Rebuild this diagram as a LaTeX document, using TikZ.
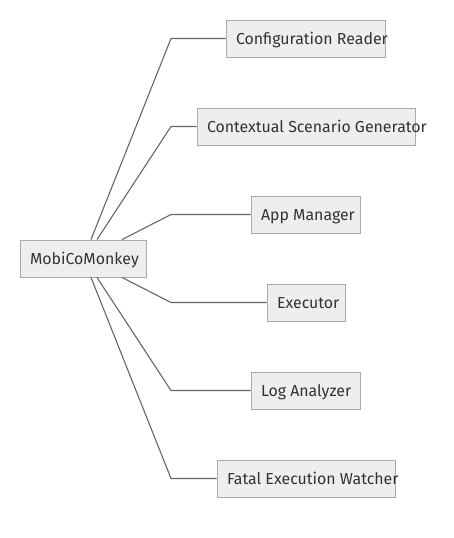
\documentclass[tikz,border=0pt]{standalone}
\usepackage{fontspec}
\setmainfont{Fira Sans}
\usetikzlibrary{calc}
\definecolor{boxfill}{HTML}{EEEEEE}
\definecolor{boxline}{HTML}{AAAAAA}
\definecolor{edgecol}{HTML}{666666}
\definecolor{txt}{HTML}{333333}
\begin{document}
\begin{tikzpicture}[x=1pt,y=-1pt,
  box/.style={draw=boxline,fill=boxfill,line width=0.9pt,minimum height=37pt,inner sep=0pt,
    text=txt,font=\fontsize{15.9}{18}\selectfont},
  edge/.style={draw=edgecol,line width=1.1pt}]
\useasboundingbox (0,0) rectangle (454,538);
\newcommand{\bx}[5]{\node[box,minimum width=#4pt] (#1) at (#2,#3) {\makebox[\dimexpr#4pt-20pt\relax][l]{\raisebox{-2pt}[\height][\depth]{\strut#5}}};}
\bx{root}{83}{258.5}{126}{MobiCoMonkey}
\bx{cr}{305.5}{38.5}{159}{Configuration Reader}
\bx{csg}{306}{126.5}{218}{Contextual Scenario Generator}
\bx{am}{305.5}{214.5}{109}{App Manager}
\bx{ex}{306}{302.5}{78}{Executor}
\bx{la}{305.5}{390.5}{109}{Log Analyzer}
\bx{few}{306}{478.5}{178}{Fatal Execution Watcher}
\coordinate (elbow) at (171,0);
\draw[edge] ([xshift=8pt]root.north) -- (elbow |- cr.west) -- (cr.west);
\draw[edge] ([xshift=14pt]root.north) -- (elbow |- csg.west) -- (csg.west);
\draw[edge] ([xshift=39pt]root.north) -- (elbow |- am.west) -- (am.west);
\draw[edge] ([xshift=39pt]root.south) -- (elbow |- ex.west) -- (ex.west);
\draw[edge] ([xshift=14pt]root.south) -- (elbow |- la.west) -- (la.west);
\draw[edge] ([xshift=8pt]root.south) -- (elbow |- few.west) -- (few.west);
\end{tikzpicture}
\end{document}
